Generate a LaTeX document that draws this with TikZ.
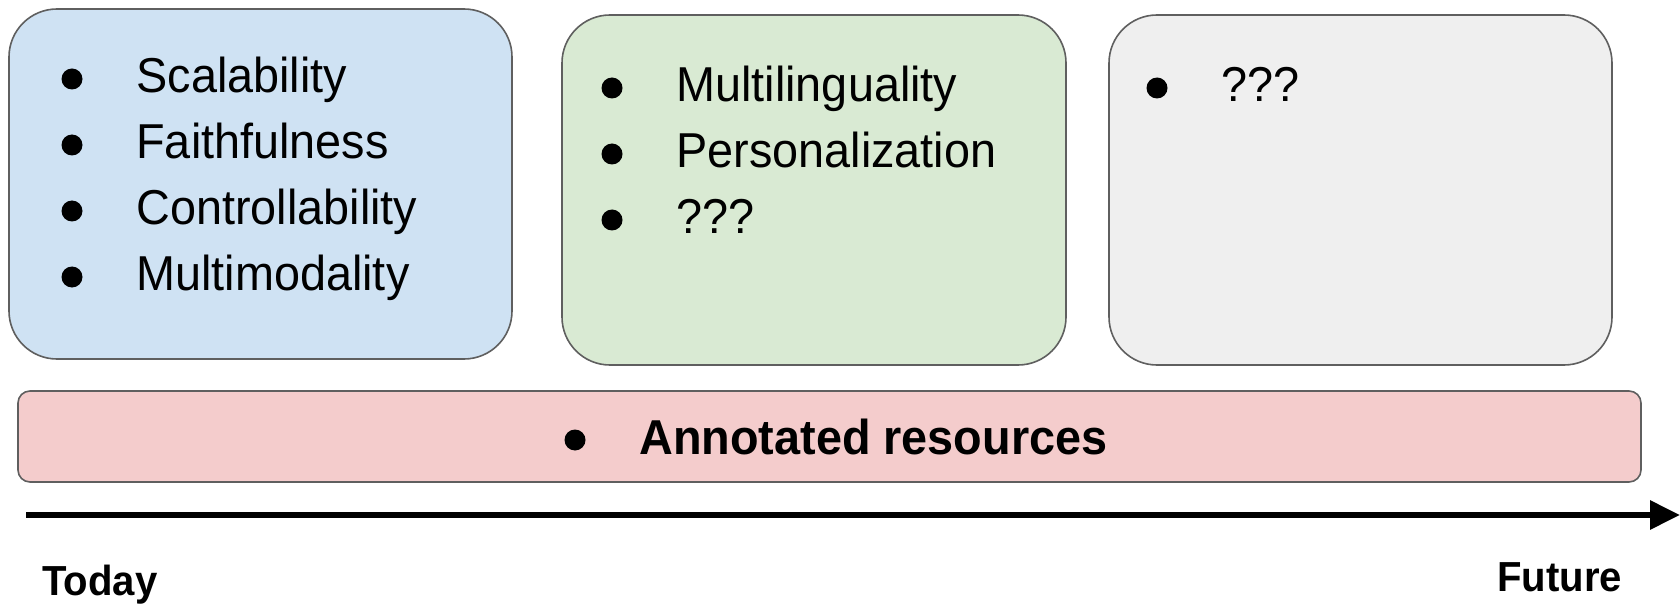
\documentclass[tikz,border=0pt]{standalone}
\usepackage{fontspec}
\setmainfont{Liberation Sans}[FakeStretch=0.955]
\usetikzlibrary{arrows.meta}
\definecolor{stageBlue}{HTML}{CFE2F3}
\definecolor{stageGreen}{HTML}{D9EAD3}
\definecolor{stageGrey}{HTML}{EFEFEF}
\definecolor{stageRed}{HTML}{F4CCCC}
\definecolor{stageBorder}{HTML}{5F5F5F}
\newcommand\itemDist{66}
\newcommand\itemIndent{64}
\newcommand\itemFont{\fontsize{24.5}{29}\selectfont}
\newcommand\drawStageItems[4]{
	\foreach \txt [count=\i from 0] in {#4}{
		\node[bulletdot] (#1dot\i) at (#2, #3+\i*\itemDist-14) {};
		\node[itemtext] (#1item\i) at (#2+\itemIndent, #3+\i*\itemDist) {\txt};
	}
}

\begin{document}
\begin{tikzpicture}[x=0.5pt, y=-0.5pt,
	stagebox/.style={draw=stageBorder, line width=0.8pt, rounded corners=24pt},
	bulletdot/.style={circle, fill=black, inner sep=0pt, minimum size=10.5pt},
	itemtext/.style={anchor=base west, inner sep=0pt, font=\itemFont},
	timelabel/.style={anchor=base west, inner sep=0pt, font=\fontsize{21}{25}\selectfont\bfseries},
	timearrow/.style={line width=3pt, -{Triangle[length=15pt, width=14pt]}}]
	
	\useasboundingbox (0,0) rectangle (1680,604);
	
	% stages
	\draw[stagebox, fill=stageBlue] (9,9) rectangle (512,359);
	\draw[stagebox, fill=stageGreen] (562,15) rectangle (1066,365);
	\draw[stagebox, fill=stageGrey] (1109,15) rectangle (1612,365);
	\draw[stagebox, fill=stageRed, rounded corners=6pt] (18,391) rectangle (1641,482);
	
	\drawStageItems{now}{72}{93}{Scalability, Faithfulness, Controllability, Multimodality}
	\drawStageItems{next}{612}{102}{Multilinguality, Personalization, ???}
	\drawStageItems{later}{1157}{102}{???}
	
	\node[bulletdot] (baseDot) at (575, 440) {};
	\node[itemtext, font=\itemFont\bfseries] (baseItem) at (575+\itemIndent, 454) {Annotated resources};
	
	% time axis
	\coordinate (timeStart) at (26, 515);
	\coordinate (timeEnd) at (1680, 515);
	\draw[timearrow] (timeStart) -- (timeEnd);
	\node[timelabel] (today) at (42, 595) {Today};
	\node[timelabel] (future) at (1497, 591) {Future};
\end{tikzpicture}
\end{document}
